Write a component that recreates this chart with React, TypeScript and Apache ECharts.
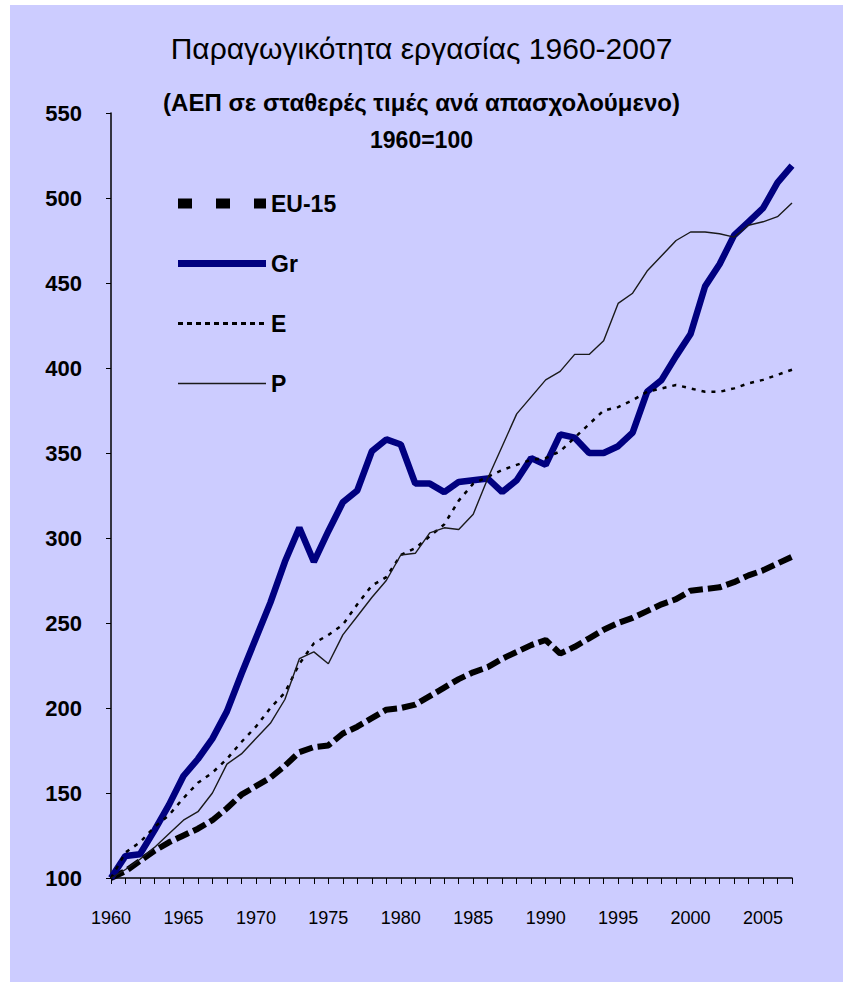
import React, { useEffect, useRef } from "react";
import * as echarts from "echarts";

const years = [
  "1960", "1961", "1962", "1963", "1964", "1965", "1966", "1967", "1968", "1969",
  "1970", "1971", "1972", "1973", "1974", "1975", "1976", "1977", "1978", "1979",
  "1980", "1981", "1982", "1983", "1984", "1985", "1986", "1987", "1988", "1989",
  "1990", "1991", "1992", "1993", "1994", "1995", "1996", "1997", "1998", "1999",
  "2000", "2001", "2002", "2003", "2004", "2005", "2006", "2007",
];

const eu15 = [
  100, 104, 110, 116, 121, 125, 129, 134, 141, 149,
  154, 159, 166, 174, 177, 178, 185, 189, 194, 199,
  200, 202, 207, 212, 217, 221, 224, 229, 233, 237,
  240, 232, 236, 241, 246, 250, 253, 257, 261, 264,
  269, 270, 271, 274, 278, 281, 285, 289,
];

const gr = [
  100, 113, 114, 128, 143, 160, 170, 182, 198, 220,
  241, 262, 286, 306, 286, 304, 321, 328, 351, 358,
  355, 332, 332, 327, 333, 334, 335, 327, 334, 347,
  343, 361, 359, 350, 350, 354, 362, 386, 393, 407,
  420, 448, 461, 478, 486, 494, 509, 519,
];

const es = [
  100, 115, 121, 130, 137, 147, 156, 162, 170, 180,
  189, 200, 209, 226, 238, 243, 249, 261, 272, 277,
  290, 294, 301, 308, 322, 332, 336, 340, 343, 346,
  347, 351, 359, 367, 375, 377, 381, 386, 388, 390,
  388, 386, 386, 388, 391, 393, 396, 399,
];

const pt = [
  100, 105, 111, 118, 126, 134, 139, 150, 167, 173,
  182, 191, 205, 229, 233, 226, 243, 254, 265, 275,
  290, 291, 303, 306, 305, 314, 335, 354, 373, 383,
  393, 398, 408, 408, 416, 438, 444, 457, 466, 475,
  480, 480, 479, 477, 484, 486, 489, 497,
];

const seriesNames = ["EU-15", "Gr", "E", "P"];
const titleText = "Παραγωγικότητα εργασίας 1960-2007";
const subtitleText = "(ΑΕΠ σε σταθερές τιμές ανά απασχολούμενο)";
const baseText = "1960=100";

const FONT = "'Liberation Sans', Arial, sans-serif";

export default function App() {
  const ref = useRef<HTMLDivElement>(null);

  useEffect(() => {
    if (!ref.current) return;
    const chart = echarts.init(ref.current, null, { renderer: "svg" });

    const legendLineStyles: Record<string, any> = {
      "EU-15": { color: "#000", width: 10, type: [14, 24], cap: "butt" },
      Gr: { color: "#000080", width: 7, type: "solid" },
      E: { color: "#000", width: 3, type: [5, 4] },
      P: { color: "#1a1a1a", width: 1.3, type: "solid" },
    };

    chart.setOption({
      animation: false,
      backgroundColor: "#ffffff",
      graphic: [
        {
          type: "rect",
          z: -10,
          silent: true,
          shape: { x: 10, y: 5, width: 833, height: 977 },
          style: { fill: "#CCCCFF" },
        },
      ],
      title: [
        {
          text: titleText,
          left: "center",
          top: 33,
          padding: 0,
          textStyle: { fontFamily: FONT, fontSize: 30, fontWeight: "normal", color: "#000" },
        },
        {
          text: subtitleText,
          left: "center",
          top: 90,
          padding: 0,
          textStyle: { fontFamily: FONT, fontSize: 24, fontWeight: "bold", color: "#000" },
        },
        {
          text: baseText,
          left: "center",
          top: 128,
          padding: 0,
          textStyle: { fontFamily: FONT, fontSize: 23, fontWeight: "bold", color: "#000" },
        },
      ],
      legend: {
        orient: "vertical",
        left: 168,
        top: 187,
        itemWidth: 88,
        itemHeight: 14,
        itemGap: 37,
        itemStyle: { color: "rgba(0,0,0,0)", borderWidth: 0 },
        data: seriesNames.map((n) => ({ name: n, lineStyle: legendLineStyles[n] })),
        textStyle: { fontFamily: FONT, fontSize: 23, fontWeight: "bold", color: "#000" },
      },
      grid: { left: 111, top: 113, right: 51, bottom: 106, containLabel: false },
      xAxis: {
        type: "category",
        data: years,
        boundaryGap: false,
        axisLine: { lineStyle: { color: "#000", width: 1.5 } },
        axisTick: { show: true, interval: 0, length: 6, lineStyle: { color: "#000", width: 1 } },
        axisLabel: {
          interval: (i: number) => i % 5 === 0,
          margin: 31,
          fontFamily: FONT,
          fontSize: 18,
          color: "#000",
        },
        splitLine: { show: false },
      },
      yAxis: {
        type: "value",
        min: 100,
        max: 550,
        interval: 50,
        axisLine: { show: true, lineStyle: { color: "#000", width: 1.5 } },
        axisTick: { show: true, length: 5, lineStyle: { color: "#000", width: 1 } },
        axisLabel: {
          margin: 29,
          fontFamily: FONT,
          fontSize: 22,
          fontWeight: "bold",
          color: "#000",
        },
        splitLine: { show: false },
      },
      series: [
        {
          name: "EU-15",
          type: "line",
          data: eu15,
          symbol: "none",
          z: 3,
          lineStyle: { color: "#000", width: 6, type: [14, 5], cap: "butt" },
          itemStyle: { color: "#000" },
        },
        {
          name: "Gr",
          type: "line",
          data: gr,
          symbol: "none",
          z: 4,
          lineStyle: { color: "#000080", width: 6.5 },
          itemStyle: { color: "#000080" },
        },
        {
          name: "E",
          type: "line",
          data: es,
          symbol: "none",
          z: 5,
          lineStyle: { color: "#000", width: 2.5, type: [4, 6] },
          itemStyle: { color: "#000" },
        },
        {
          name: "P",
          type: "line",
          data: pt,
          symbol: "none",
          z: 6,
          lineStyle: { color: "#1a1a1a", width: 1.4 },
          itemStyle: { color: "#1a1a1a" },
        },
      ],
    });
    return () => chart.dispose();
  }, []);

  return (
    <div
      ref={ref}
      style={{ position: "absolute", left: 0, top: 0, width: 843, height: 984 }}
    />
  );
}
